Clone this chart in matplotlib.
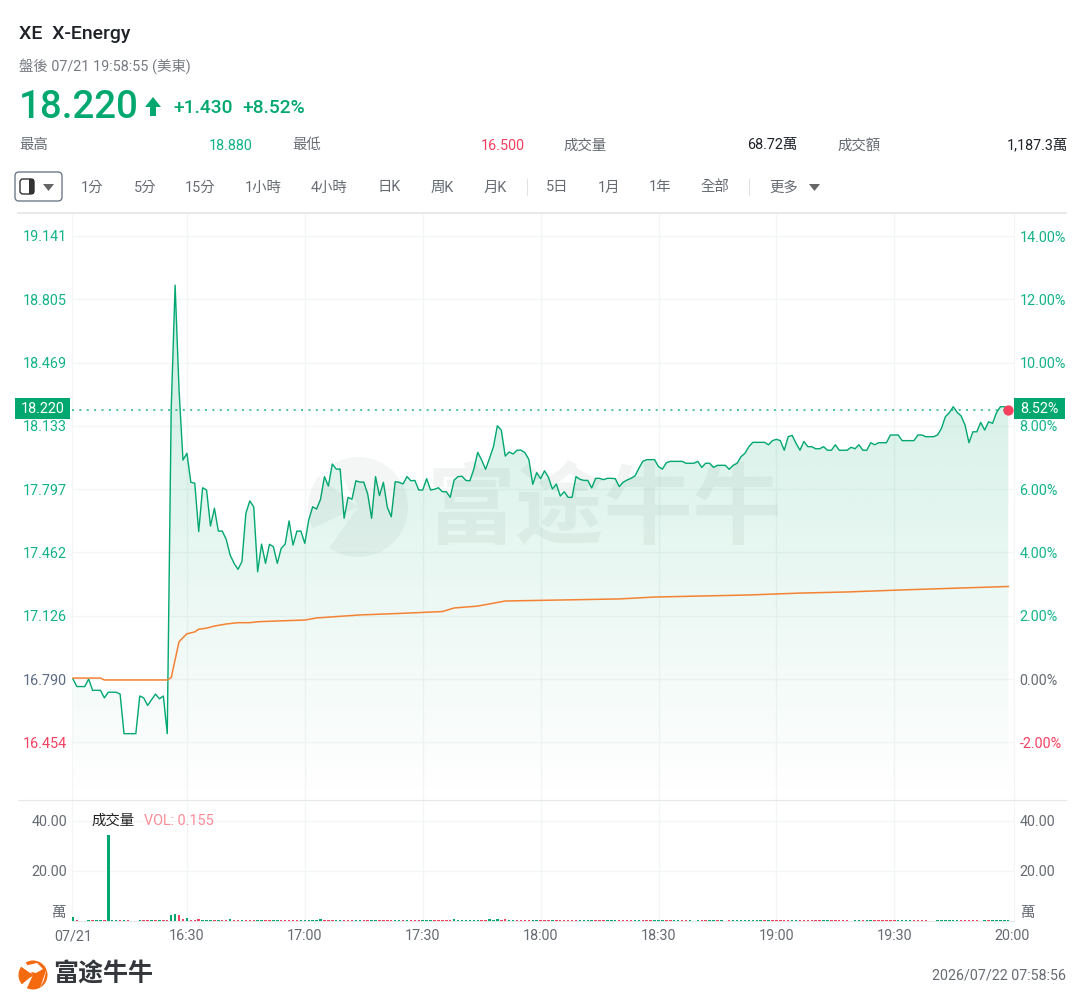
import matplotlib
matplotlib.use("Agg")
import matplotlib.pyplot as plt
from matplotlib.patches import Circle, FancyBboxPatch, Polygon, Rectangle, Wedge
import numpy as np

plt.rcParams['font.family'] = ['Roboto', 'Noto Sans CJK TC', 'DejaVu Sans']

W, H = 1086, 1007

GREEN = '#00a870'
TICK_GREEN = '#12b389'
RED = '#f5405f'
ORANGE = '#f58233'
GRAY = '#666b73'
GRID = '#f4f5f5'

# minutes after 16:00, one close price per minute from 16:01 to 19:59
prices = [
    16.79, 16.75, 16.75, 16.75, 16.79, 16.73, 16.73, 16.73, 16.69, 16.72,
    16.72, 16.72, 16.71, 16.50, 16.50, 16.50, 16.50, 16.70, 16.69, 16.65,
    16.68, 16.71, 16.685, 16.70, 16.50, 18.22, 18.88, 18.324, 17.952, 17.988,
    17.834, 17.829, 17.572, 17.805, 17.793, 17.602, 17.696, 17.575, 17.575, 17.531,
    17.448, 17.404, 17.372, 17.413, 17.669, 17.735, 17.704, 17.359, 17.506, 17.404,
    17.505, 17.492, 17.404, 17.484, 17.506, 17.629, 17.501, 17.575, 17.575, 17.51,
    17.634, 17.704, 17.692, 17.744, 17.864, 17.814, 17.931, 17.904, 17.904, 17.643,
    17.754, 17.744, 17.842, 17.835, 17.835, 17.772, 17.643, 17.864, 17.763, 17.834,
    17.701, 17.651, 17.837, 17.834, 17.825, 17.864, 17.842, 17.844, 17.793, 17.793,
    17.853, 17.793, 17.797, 17.805, 17.784, 17.784, 17.754, 17.846, 17.864, 17.866,
    17.844, 17.842, 17.903, 17.993, 17.952, 17.903, 17.961, 18.023, 18.134, 18.111,
    17.973, 17.995, 17.984, 18.004, 18.005, 17.991, 17.956, 17.823, 17.885, 17.853,
    17.895, 17.86, 17.798, 17.825, 17.761, 17.784, 17.754, 17.754, 17.864, 17.85,
    17.844, 17.844, 17.804, 17.855, 17.855, 17.848, 17.855, 17.855, 17.853, 17.811,
    17.834, 17.846, 17.855, 17.867, 17.908, 17.945, 17.954, 17.954, 17.954, 17.917,
    17.904, 17.938, 17.945, 17.945, 17.945, 17.945, 17.935, 17.935, 17.935, 17.945,
    17.913, 17.935, 17.935, 17.913, 17.924, 17.924, 17.924, 17.903, 17.924, 17.935,
    17.97, 17.988, 18.023, 18.046, 18.046, 18.046, 18.046, 18.033, 18.055, 18.062,
    18.055, 18.004, 18.076, 18.083, 18.041, 18.004, 18.051, 18.023, 18.023, 18.012,
    18.012, 18.023, 18.004, 18.004, 18.033, 18.004, 18.004, 18.004, 18.02, 18.012,
    18.033, 18.004, 18.004, 18.044, 18.033, 18.044, 18.044, 18.044, 18.085, 18.085,
    18.085, 18.055, 18.055, 18.055, 18.055, 18.085, 18.085, 18.076, 18.076, 18.076,
    18.085, 18.12, 18.182, 18.203, 18.235, 18.205, 18.186, 18.138, 18.044, 18.102,
    18.102, 18.152, 18.111, 18.155, 18.147, 18.203, 18.235, 18.235, 18.22,
]

# average price line, read at its corners
avg_minutes = [1, 8, 9, 25, 26, 28, 30, 32, 33, 35, 37, 40, 43, 46, 48, 53, 60, 63, 74, 84,
               95, 98, 104, 111, 140, 149, 173, 186, 198, 211, 227, 239]
avg_prices = [16.795, 16.795, 16.785, 16.785, 16.797, 16.988, 17.03, 17.04, 17.054, 17.06,
              17.071, 17.082, 17.089, 17.089, 17.094, 17.098, 17.103, 17.114, 17.13, 17.138,
              17.148, 17.167, 17.177, 17.204, 17.215, 17.225, 17.236, 17.246, 17.252, 17.262,
              17.273, 17.281]

# volume in 萬 per minute, 16:01 to 20:00
volumes = [
    1.6, .4, 0, 0, .4, .4, .4, .4, .4, 34.4,
    .4, .4, .4, .4, .4, 0, 0, .4, .4, .4,
    .4, .4, .4, .4, .4, 2.3, 2.9, 2.4, .7, 1.3,
    .4, .4, .7, .4, .4, .4, .4, .5, .4, .4,
    .8, .4, .4, .4, .4, .4, .4, .4, .4, .4,
    .4, .4, .4, .4, .4, .4, .4, .4, .4, .4,
    .4, .4, .4, .9, .4, .4, .4, .4, .4, .4,
    .4, .4, .4, .4, .4, .4, .4, .4, .4, .4,
    .4, .4, .4, .4, .4, .4, .4, .4, .4, .4,
    .4, .4, .4, .4, .4, .4, .4, 1.0, .4, .4,
    .4, .4, .4, .4, .4, .4, .7, .4, .7, .4,
    .8, .4, .4, .4, .4, .4, .4, .4, .4, .4,
    .4, .4, .4, .4, .4, .4, .4, .4, .4, .4,
    .4, .4, .4, .4, .4, .4, .4, .4, .4, .4,
    .4, .4, .4, .4, .4, .4, .4, .4, .4, .4,
    .4, .4, .4, .4, .4, .4, .4, .4, 0, .4,
    .4, .4, .4, .4, .4, .4, 0, .4, .4, .4,
    .4, .4, .4, .4, .4, .4, .4, .4, .4, .4,
    .4, .4, .4, .4, .4, .4, .4, .4, .4, .4,
    .4, .4, .4, .4, .4, .4, .4, .4, 0, .4,
    .4, .4, .4, .4, .4, .4, .4, .4, .4, .4,
    .4, .4, .4, .4, .4, .4, .4, .4, 0, 0,
    .4, .4, .4, .4, .4, .4, .4, .4, .4, .4,
    .4, 0, .4, .4, .4, .4, .4, .4, .4, .155,
]
volume_sides = (
    "grrrgrggrg" "ggrgrrrgrr" "grgrrggrrg" "rrrgggrgrr" "grrgrrrggr" "rggrrrrrgg"
    "ggggrrrggr" "rrggrrggrr" "rrggrgrrrg" "ggrrrrrggg" "ggggrrgggr" "rggrrrrggr"
    "rrgrrrrrrg" "gggrrrgggr" "rrrggrrrgg" "grrggrrggg" "rrggrgrrgg" "ggggggrgrr"
    "rrrggrrrrr" "rggrrrrrrg" "grggrrrrrr" "ggggrrrrrg" "ggggggrrrr" "rrgrgggggg"
)

price_ticks = [19.141, 18.805, 18.469, 18.133, 17.797, 17.462, 17.126, 16.790, 16.454]
pct_ticks = [14, 12, 10, 8, 6, 4, 2, 0, -2]
vol_ticks = [20, 40]
time_ticks = [1, 30, 60, 90, 120, 150, 180, 210, 240]
time_labels = ['07/21', '16:30', '17:00', '17:30', '18:00', '18:30', '19:00', '19:30', '20:00']

toolbar_items = [('1分', 92), ('5分', 145), ('15分', 200), ('1小時', 263), ('4小時', 329), ('日K', 389),
                 ('周K', 442), ('月K', 495), ('5日', 557), ('1月', 609), ('1年', 660), ('全部', 715),
                 ('更多', 784)]

prev_close = 16.79
last_price = 18.22

TICK_SIZE = 10.4
TEXT_SIZE = 10.4


def frac(x0, y0, x1, y1):
    # pixel box (top left origin) to figure fractions
    return [x0 / W, 1 - y1 / H, (x1 - x0) / W, (y1 - y0) / H]


fig = plt.figure(figsize=(W / 100, H / 100), dpi=100, facecolor='white')
minutes = np.arange(1, len(prices) + 1)
xlim = (0.76, 240.46)

# main panel
ax = fig.add_axes(frac(72, 213, 1014, 800))
ax.set_xlim(*xlim)
ax.set_ylim(16.148, 19.263)

fill = ax.fill_between(minutes, prices, 16.148, color='none', lw=0)
grad = np.zeros((256, 2, 4))
grad[..., 0] = 0 / 255
grad[..., 1] = 168 / 255
grad[..., 2] = 112 / 255
grad[..., 3] = np.linspace(0.2, 0, 256)[:, None]
top_price = max(prices)
im = ax.imshow(grad, extent=(xlim[0], xlim[1], 16.148, top_price), aspect='auto', origin='upper', zorder=1)
im.set_clip_path(fill.get_paths()[0], transform=ax.transData)
ax.set_xlim(*xlim)
ax.set_ylim(16.148, 19.263)

ax.set_yticks(price_ticks)
ax.set_yticklabels(['%.3f' % p for p in price_ticks])
ax.set_xticks(time_ticks[1:-1])
ax.tick_params(axis='x', length=0, labelbottom=False)
ax.tick_params(axis='y', length=0, pad=3.6, labelsize=TICK_SIZE)
ax.grid(True, color=GRID, lw=1.0)
ax.set_axisbelow(True)
for t in ax.get_yticklabels():
    val = float(t.get_text())
    t.set_color(TICK_GREEN if val > prev_close else RED if val < prev_close else '#5c6b85')
for s in ax.spines.values():
    s.set_color(GRID)
ax.spines['top'].set_visible(False)
ax.spines['bottom'].set_visible(False)

# watermark sits between the fill and the line
wm = dict(transform=fig.transFigure, color='#2f4f45', alpha=0.06, zorder=2)
ax.text(427 / W, 1 - 511 / H, '富途牛牛', fontsize=64, fontweight='bold', family='Noto Sans CJK SC',
        ha='left', va='center', **wm)
wm_xy = (358, H - 507)
for a, b in [(-125, 118), (142, 205)]:
    p = Wedge(wm_xy, 50, a, b, facecolor='#2f4f45', edgecolor='none', alpha=0.05,
              transform=None, zorder=2)
    fig.add_artist(p)

ax.plot(minutes, prices, color=GREEN, lw=1.0, zorder=4)
ax.plot(avg_minutes, avg_prices, color=ORANGE, lw=1.1, zorder=4)
ax.axhline(last_price, color=GREEN, alpha=0.7, lw=1.4, ls=(0, (1.0, 2.8)), zorder=3)
ax.plot(minutes[-1], prices[-1], 'o', color=RED, ms=7.4, mec='none', zorder=5, clip_on=False)

# percent axis on the right
ax_pct = ax.twinx()
ax_pct.set_ylim((16.148 / prev_close - 1) * 100, (19.263 / prev_close - 1) * 100)
ax_pct.set_yticks(pct_ticks)
ax_pct.set_yticklabels(['%.2f%%' % p for p in pct_ticks])
ax_pct.tick_params(axis='y', length=0, pad=4, labelsize=TICK_SIZE)
for t, p in zip(ax_pct.get_yticklabels(), pct_ticks):
    t.set_color(TICK_GREEN if p > 0 else RED if p < 0 else GRAY)
for s in ax_pct.spines.values():
    s.set_visible(False)

# volume panel
ax_vol = fig.add_axes(frac(72, 800, 1014, 921))
ax_vol.set_xlim(*xlim)
ax_vol.set_ylim(0, 48.4)
bar_x = np.arange(1, len(volumes) + 1)
bar_colors = [GREEN if c == 'g' else RED for c in volume_sides]
ax_vol.bar(bar_x, volumes, width=0.62, color=bar_colors, lw=0, zorder=3)
ax_vol.set_yticks(vol_ticks)
ax_vol.set_yticklabels(['%.2f' % v for v in vol_ticks], color=GRAY)
ax_vol.tick_params(axis='y', length=0, pad=3.6, labelsize=TICK_SIZE)
ax_vol.set_xticks(time_ticks)
ax_vol.set_xticklabels(time_labels, color=GRAY)
ax_vol.tick_params(axis='x', length=0, pad=6, labelsize=TICK_SIZE)
ax_vol.grid(True, color=GRID, lw=1.0)
ax_vol.get_xgridlines()[0].set_visible(False)
ax_vol.get_xgridlines()[-1].set_visible(False)
ax_vol.set_axisbelow(True)
for s in ax_vol.spines.values():
    s.set_color(GRID)
ax_vol.spines['top'].set_visible(False)
ax_vol.spines['bottom'].set_color('#e4e6e8')

ax_vol_r = ax_vol.twinx()
ax_vol_r.set_ylim(0, 48.4)
ax_vol_r.set_yticks(vol_ticks)
ax_vol_r.set_yticklabels(['%.2f' % v for v in vol_ticks], color=GRAY)
ax_vol_r.tick_params(axis='y', length=0, pad=4, labelsize=TICK_SIZE)
for s in ax_vol_r.spines.values():
    s.set_visible(False)

# header, toolbar and footer in pixel coordinates
top = fig.add_axes([0, 0, 1, 1], facecolor='none')
top.set_xlim(0, W)
top.set_ylim(H, 0)
top.axis('off')

top.text(19, 34, 'XE  X-Energy', fontsize=14, fontweight='medium', color='#1f2329', va='center')
top.text(19, 66, '盤後 07/21 19:58:55 (美東)', fontsize=10.4, color='#777b82', va='center')
top.text(19, 108, '18.220', fontsize=27.7, fontweight='medium', color=GREEN, va='center')
top.add_patch(Polygon([(153, 97), (161, 107), (156, 107), (156, 116), (150, 116), (150, 107), (145, 107)],
                      closed=True, color=GREEN, lw=0))
top.text(173, 108, '+1.430', fontsize=13.8, fontweight='medium', color=GREEN, va='center')
top.text(242, 108, '+8.52%', fontsize=13.8, fontweight='medium', color=GREEN, va='center')

top.text(19, 145.5, '最高', fontsize=TEXT_SIZE, color=GRAY, va='center')
top.text(253, 145.5, '18.880', fontsize=TEXT_SIZE, color=TICK_GREEN, va='center', ha='right')
top.text(292, 145.5, '最低', fontsize=TEXT_SIZE, color=GRAY, va='center')
top.text(525, 145.5, '16.500', fontsize=TEXT_SIZE, color=RED, va='center', ha='right')
top.text(564, 145.5, '成交量', fontsize=TEXT_SIZE, color=GRAY, va='center')
top.text(797, 145.5, '68.72萬', fontsize=TEXT_SIZE, color='#1f2329', va='center', ha='right')
top.text(837, 145.5, '成交額', fontsize=TEXT_SIZE, color=GRAY, va='center')
top.text(1068, 145.5, '1,187.3萬', fontsize=TEXT_SIZE, color='#1f2329', va='center', ha='right')

# chart type button
top.add_patch(FancyBboxPatch((17, 174), 43, 25, boxstyle='round,pad=2,rounding_size=4',
                             fc='white', ec='#6e7a8c', lw=1.0))
top.add_patch(FancyBboxPatch((20, 179), 14, 15, boxstyle='round,pad=0,rounding_size=3',
                             fc='white', ec='#333333', lw=1.0))
top.add_patch(Rectangle((29, 179), 5, 15, color='#333333', lw=0))
top.add_patch(Polygon([(43, 184), (54, 184), (48.5, 191)], closed=True, color='#666666', lw=0))

for label, x in toolbar_items:
    top.text(x, 187.5, label, fontsize=TEXT_SIZE, color=GRAY, va='center', ha='center')
for x in (527, 749):
    top.plot([x, x], [179, 195], color='#e0e2e5', lw=0.8)
top.add_patch(Polygon([(809, 184), (820, 184), (814.5, 191)], closed=True, color='#666666', lw=0))

top.plot([18, 1066], [213, 213], color='#e8e9ea', lw=1.4)
top.plot([18, 1066], [800, 800], color='#e6e7e8', lw=0.8)

# last price tags
top.add_patch(Rectangle((15, 398), 55, 21, color=GREEN, lw=0))
top.text(65, 409, '18.220', fontsize=TICK_SIZE, color='white', va='center', ha='right')
top.add_patch(Rectangle((1014, 398), 51, 21, color=GREEN, lw=0))
top.text(1020, 409, '8.52%', fontsize=TICK_SIZE, color='white', va='center')

top.text(91, 821, '成交量', fontsize=TEXT_SIZE, color='#222222', va='center')
top.text(144, 821, 'VOL: 0.155', fontsize=TEXT_SIZE, color='#fb8a98', va='center')
top.text(66, 913, '萬', fontsize=TEXT_SIZE, color=GRAY, va='center', ha='right')
top.text(1020, 913, '萬', fontsize=TEXT_SIZE, color=GRAY, va='center')

# footer logo
for a, b in [(-120, 115), (140, 215)]:
    top.add_patch(Wedge((33, 975), 14.5, a, b, color='#f5690f', lw=0))
top.add_patch(Circle((31, 975), 1.8, color='#f5690f', lw=0))
top.add_patch(Polygon([(24, 966), (37, 963), (43, 969), (36, 973), (28, 971)], closed=True, color='white', lw=0))
top.add_patch(Polygon([(40, 988), (47, 968), (44, 980)], closed=True, color='white', lw=0))
top.text(53, 975, '富途牛牛', fontsize=18, fontweight='bold', family='Noto Sans CJK SC',
         color='#33363b', va='center')
top.text(1066, 975, '2026/07/22 07:58:56', fontsize=10.3, color=GRAY, va='center', ha='right')

fig.savefig('out.png', dpi=100)
